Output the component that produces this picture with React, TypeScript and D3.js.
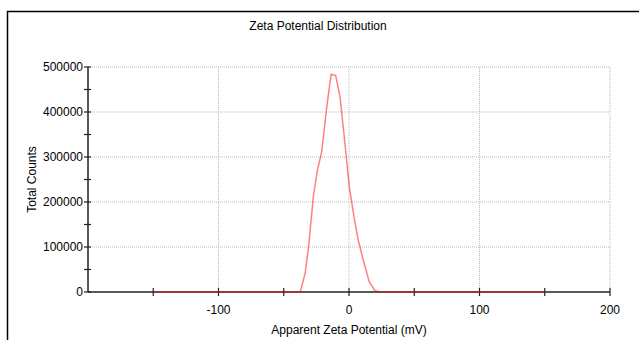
import React from 'react';
import * as d3 from 'd3';

// zeta potential (mV) vs total counts
const zeta = [-150, -100, -50, -37.4, -33.6, -31, -27.2, -24.2, -20.9, -17, -13.7, -10.2, -6.9, -3.1, 0.2, 3.8, 7.1, 10.9, 15.5, 19.8, 24, 50, 100, 150];
const counts = [0, 0, 0, 0, 41500, 100000, 215000, 271000, 312000, 412000, 484000, 481000, 434000, 330000, 234000, 167000, 115000, 71000, 23000, 3000, 0, 0, 0, 0];

const xMajor = [-100, 0, 100, 200];
const xMinor = [-150, -100, -50, 0, 50, 100, 150, 200];
const yMajor = [0, 100000, 200000, 300000, 400000, 500000];
const yMinor = d3.range(0, 500001, 50000);

const W = 639;
const H = 340;
const font = '"Liberation Sans", Arial, sans-serif';

export default function App() {
    const x = d3.scaleLinear().domain([-200, 200]).range([88, 610]);
    const y = d3.scaleLinear().domain([0, 500000]).range([292, 67]);

    const pts: [number, number][] = zeta.map((z, i) => [z, counts[i]]);
    const line = d3.line<[number, number]>()
        .x(d => x(d[0]))
        .y(d => y(d[1]));

    return (
        <svg width={W} height={H} style={{ position: 'absolute', left: 0, top: 0, background: '#fff' }} fontFamily={font}>
            {/* frame */}
            <path d={`M7.5,${H} V11.5 H${W}`} fill="none" stroke="#000" strokeWidth={1.5} />

            <text x={318} y={30} textAnchor="middle" fontSize={12}>Zeta Potential Distribution</text>

            {/* grid */}
            {yMajor.filter(v => v > 0).map(v => (
                <line key={'gy' + v} x1={x(-200)} x2={x(200)} y1={y(v)} y2={y(v)}
                    stroke="#bbb" strokeWidth={1} strokeDasharray="1,1" />
            ))}
            {xMajor.map(v => (
                <line key={'gx' + v} x1={x(v)} x2={x(v)} y1={y(0)} y2={y(500000)}
                    stroke="#bbb" strokeWidth={1} strokeDasharray="1,1" />
            ))}

            {/* axes */}
            <line x1={x(-200)} x2={x(-200)} y1={y(0)} y2={y(500000)} stroke="#222" strokeWidth={1.5} />
            <line x1={x(-200)} x2={x(200)} y1={y(0)} y2={y(0)} stroke="#222" strokeWidth={1.5} />
            {yMinor.map(v => (
                <line key={'ty' + v} x1={x(-200) - 4} x2={x(-200) + 3} y1={y(v)} y2={y(v)} stroke="#222" strokeWidth={1.2} />
            ))}
            {xMinor.map(v => (
                <line key={'tx' + v} x1={x(v)} x2={x(v)} y1={y(0) - 4} y2={y(0) + 4} stroke="#222" strokeWidth={1.2} />
            ))}
            {yMajor.map(v => (
                <text key={'ly' + v} x={x(-200) - 5} y={y(v)} dy="0.35em" textAnchor="end" fontSize={12}>{v}</text>
            ))}
            {xMajor.map(v => (
                <text key={'lx' + v} x={x(v)} y={314} textAnchor="middle" fontSize={12}>{v}</text>
            ))}

            <text x={349} y={334} textAnchor="middle" fontSize={12}>Apparent Zeta Potential (mV)</text>
            <text transform={`translate(36,${y(250000)}) rotate(-90)`} textAnchor="middle" fontSize={12}>Total Counts</text>

            {/* data */}
            <path d={line(pts) || ''} fill="none" stroke="#ff0000" strokeOpacity={0.5} strokeWidth={1.5} />
        </svg>
    );
}
